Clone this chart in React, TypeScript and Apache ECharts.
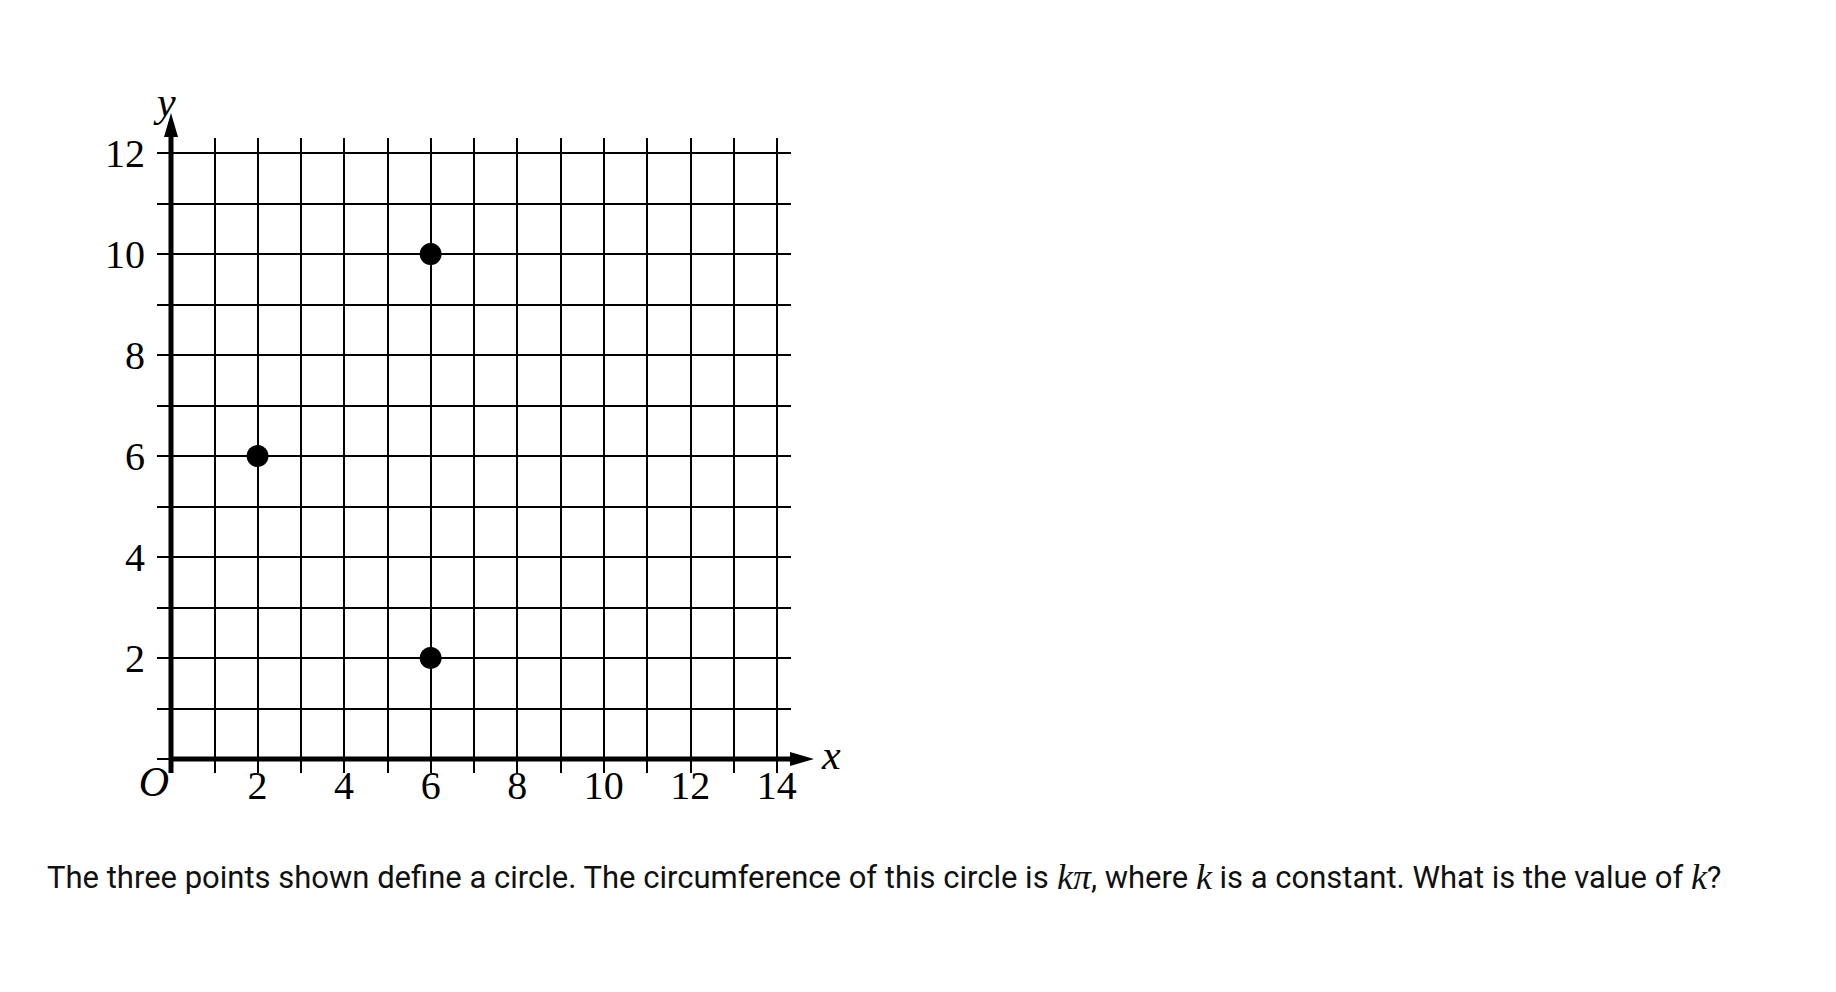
import { useEffect, useRef } from "react";
import * as echarts from "echarts";

const points: [number, number][] = [
  [6, 10],
  [2, 6],
  [6, 2],
];
const xLabels = ["2", "4", "6", "8", "10", "12", "14"];
const yLabels = ["2", "4", "6", "8", "10", "12"];
const serif = "'Liberation Serif', 'DejaVu Serif', serif";

export default function App() {
  const chartRef = useRef<HTMLDivElement>(null);

  useEffect(() => {
    if (!chartRef.current) return;
    const chart = echarts.init(chartRef.current, null, { renderer: "svg" });
    const label = (list: string[]) => (v: number) =>
      list.includes(String(v)) ? String(v) : "";

    chart.setOption({
      animation: false,
      grid: { left: 171, top: 138, width: 621, height: 621 },
      xAxis: {
        type: "value",
        min: 0,
        max: 14.35,
        interval: 1,
        axisLine: { show: false },
        axisTick: { show: true, length: 14, lineStyle: { color: "#000", width: 2 } },
        splitLine: { show: true, showMaxLine: false, lineStyle: { color: "#000", width: 2 } },
        axisLabel: {
          formatter: label(xLabels),
          showMaxLabel: false,
          color: "#000",
          fontFamily: serif,
          fontSize: 40,
          margin: 6,
        },
      },
      yAxis: {
        type: "value",
        min: 0,
        max: 12.3,
        interval: 1,
        axisLine: { show: false },
        axisTick: { show: true, length: 14, lineStyle: { color: "#000", width: 2 } },
        splitLine: { show: true, showMaxLine: false, lineStyle: { color: "#000", width: 2 } },
        axisLabel: {
          formatter: label(yLabels),
          showMaxLabel: false,
          color: "#000",
          fontFamily: serif,
          fontSize: 40,
          margin: 26,
        },
      },
      series: [
        {
          type: "scatter",
          data: points,
          symbolSize: 22,
          itemStyle: { color: "#000", opacity: 1 },
          z: 5,
        },
      ],
    });

    const o = chart.convertToPixel({ gridIndex: 0 }, [0, 0]);
    const xEnd = chart.convertToPixel({ gridIndex: 0 }, [14.35, 0]);
    const yEnd = chart.convertToPixel({ gridIndex: 0 }, [0, 12.3]);
    const ax = xEnd[0] + 22;
    const ay = yEnd[1] - 25;
    chart.setOption({
      graphic: [
        { type: "rect", shape: { x: xEnd[0] - 1, y: ay - 2, width: 4, height: o[1] - ay - 5 }, style: { fill: "#fff" }, z: 9 },
        { type: "line", shape: { x1: o[0], y1: o[1], x2: ax - 18, y2: o[1] }, style: { stroke: "#000", lineWidth: 5 }, z: 10 },
        { type: "polygon", shape: { points: [[ax, o[1]], [ax - 24, o[1] - 7], [ax - 24, o[1] + 7]] }, style: { fill: "#000" }, z: 10 },
        { type: "line", shape: { x1: o[0], y1: o[1] + 14, x2: o[0], y2: ay + 18 }, style: { stroke: "#000", lineWidth: 5 }, z: 10 },
        { type: "polygon", shape: { points: [[o[0], ay], [o[0] - 7, ay + 24], [o[0] + 7, ay + 24]] }, style: { fill: "#000" }, z: 10 },
        { type: "text", x: ax + 8, y: o[1] - 4, style: { text: "x", font: `italic 42px ${serif}`, fill: "#000", verticalAlign: "middle" } },
        { type: "text", x: o[0] - 14, y: ay - 32, style: { text: "y", font: `italic 42px ${serif}`, fill: "#000" } },
        { type: "text", x: o[0] - 2, y: o[1] + 2, style: { text: "O", font: `italic 42px ${serif}`, fill: "#000", align: "right" } },
        {
          type: "text",
          x: 47,
          y: 895,
          style: {
            text: "The three points shown define a circle. The circumference of this circle is {k|kπ}, where {k|k} is a constant. What is the value of {k|k}?",
            font: "31px Roboto",
            fill: "#111",
            verticalAlign: "bottom",
            rich: { k: { font: `italic 36px ${serif}`, fill: "#111" } },
          },
        },
      ],
    });

    return () => chart.dispose();
  }, []);

  return (
    <div
      ref={chartRef}
      style={{ position: "absolute", left: 0, top: 0, width: 1836, height: 992 }}
    />
  );
}
